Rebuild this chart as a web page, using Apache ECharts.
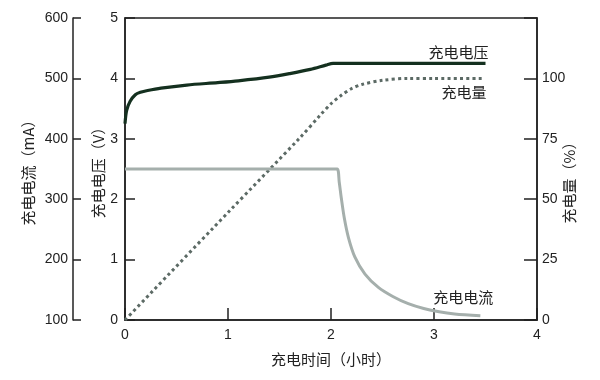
<!DOCTYPE html>
<html><head><meta charset="utf-8">
<script src="https://cdn.jsdelivr.net/npm/echarts@6/dist/echarts.min.js"></script>
<style>html,body{margin:0;padding:0;background:#fff}#c{width:600px;height:380px}</style>
</head><body><div id="c"></div>
<script>
// ---- data ----
const voltHours = [0, 0.016, 0.05, 0.1, 0.15, 0.22, 0.35, 0.6, 0.9, 1.1, 1.4, 1.6, 1.8, 1.95, 2.02, 2.1, 3.5];
const voltage   = [3.25, 3.47, 3.62, 3.73, 3.77, 3.80, 3.84, 3.89, 3.93, 3.96, 4.02, 4.08, 4.15, 4.22, 4.25, 4.25, 4.25];

const chgHours  = [0, 1.0, 1.7, 1.9, 2.0, 2.1, 2.2, 2.3, 2.5, 2.75, 3.0, 3.48];
const chargePct = [0, 44.5, 75.5, 85, 89.5, 93, 95.8, 97.5, 99.2, 100, 100, 100];

const curHours  = [0, 2.0, 2.06, 2.08, 2.10, 2.13, 2.17, 2.23, 2.33, 2.46, 2.6, 2.75, 2.9, 3.05, 3.2, 3.45];
const currentMA = [350, 350, 350, 328, 302, 268, 236, 205, 176, 154, 139, 127, 119, 113.5, 110, 107];

const xTicks = [0, 1, 2, 3, 4];
const seriesNames = ['充电电压', '充电量', '充电电流'];
const axisNames = { x: '充电时间（小时）', volt: '充电电压（V）', cur: '充电电流（mA）', pct: '充电量（%）' };

const zip = (a, b) => a.map((v, i) => [v, b[i]]);
const NUM = 'Liberation Sans, Arial, sans-serif';
const CJK = 'Noto Sans CJK SC, sans-serif';
const INK = '#222';

const chart = echarts.init(document.getElementById('c'), null, { renderer: 'canvas' });
const baseAxis = {
  type: 'value',
  axisLine: { show: true, lineStyle: { color: INK, width: 1.5 } },
  axisTick: { show: true, inside: true, lineStyle: { color: INK, width: 1.5 } },
  axisLabel: { color: INK, fontSize: 14, fontFamily: NUM },
  splitLine: { show: false },
  nameLocation: 'middle',
  nameRotate: 90,
  nameMoveOverlap: false,
  nameTextStyle: { color: INK, fontSize: 15, fontFamily: CJK }
};
chart.setOption({
  animation: false,
  grid: { left: 125, right: 63, top: 18, bottom: 60, show: true, borderColor: INK, borderWidth: 1.5, outerBoundsMode: 'none', containLabel: false },
  xAxis: Object.assign({}, baseAxis, {
    min: xTicks[0], max: xTicks[xTicks.length - 1], interval: 1,
    axisTick: { show: true, inside: true, length: 12, lineStyle: { color: INK, width: 1.5 } },
    axisLabel: { color: INK, fontSize: 14, fontFamily: NUM, margin: 8 },
    name: axisNames.x, nameRotate: 0, nameGap: 32
  }),
  yAxis: [
    Object.assign({}, baseAxis, {
      min: 0, max: 5, interval: 1, position: 'left',
      axisTick: { show: true, inside: true, length: 10, lineStyle: { color: INK, width: 1.5 } },
      axisLabel: { color: INK, fontSize: 14, fontFamily: NUM, margin: 7 },
      name: axisNames.volt, nameGap: 19
    }),
    Object.assign({}, baseAxis, {
      min: 100, max: 600, interval: 100, position: 'left', offset: 52,
      axisTick: { show: true, inside: true, length: 8, lineStyle: { color: INK, width: 1.5 } },
      axisLabel: { color: INK, fontSize: 14, fontFamily: NUM, margin: 5 },
      name: axisNames.cur, nameGap: 37
    }),
    Object.assign({}, baseAxis, {
      min: 0, max: 125, interval: 25, position: 'right',
      axisTick: { show: true, inside: true, length: 13, lineStyle: { color: INK, width: 1.5 } },
      axisLabel: { color: INK, fontSize: 14, fontFamily: NUM, margin: 5, formatter: v => (v > 100 ? '' : String(v)) },
      name: axisNames.pct, nameGap: 25,
      nameTextStyle: { color: INK, fontSize: 15, fontFamily: CJK, padding: [0, 20, 0, 0] }
    })
  ],
  series: [
    {
      name: seriesNames[0], type: 'line', yAxisIndex: 0, data: zip(voltHours, voltage),
      showSymbol: false, symbol: 'none', smooth: 0.3,
      lineStyle: { color: '#14301f', width: 3.2 },
      endLabel: { show: true, formatter: seriesNames[0], color: INK, fontSize: 15, fontFamily: CJK,
        align: 'right', verticalAlign: 'bottom', distance: 0, offset: [3, -4] }
    },
    {
      name: seriesNames[1], type: 'line', yAxisIndex: 2, data: zip(chgHours, chargePct),
      showSymbol: false, symbol: 'none', smooth: 0.3,
      lineStyle: { color: '#5c6a65', width: 3, type: [3, 3.2] },
      endLabel: { show: true, formatter: seriesNames[1], color: INK, fontSize: 15, fontFamily: CJK,
        align: 'right', verticalAlign: 'top', distance: 0, offset: [3, 6] }
    },
    {
      name: seriesNames[2], type: 'line', yAxisIndex: 1, data: zip(curHours, currentMA),
      showSymbol: false, symbol: 'none', smooth: 0.3,
      lineStyle: { color: '#a5afac', width: 3 },
      endLabel: { show: true, formatter: seriesNames[2], color: INK, fontSize: 15, fontFamily: CJK,
        align: 'right', verticalAlign: 'bottom', distance: 0, offset: [13, -11] }
    }
  ]
});
</script></body></html>
